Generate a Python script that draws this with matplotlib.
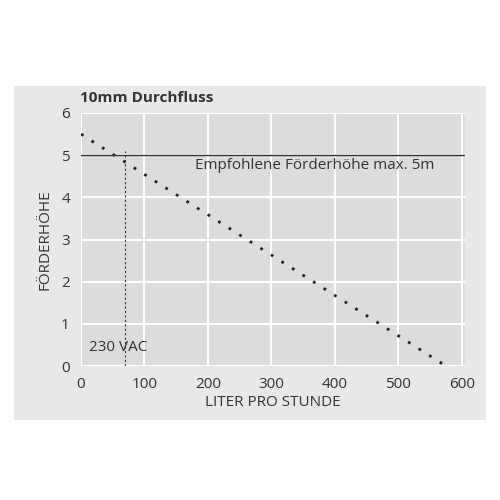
import matplotlib
matplotlib.use("Agg")
import matplotlib.pyplot as plt
from matplotlib.patches import Rectangle

curve_x = [0, 575]
curve_y = [5.5, 0]
ref_head = 5
vac_x = 70
vac_y = 5.1
xticks = [0, 100, 200, 300, 400, 500, 600]
yticks = [0, 1, 2, 3, 4, 5, 6]

plt.rcParams['font.family'] = ['Open Sans', 'DejaVu Sans']
fig = plt.figure(figsize=(5, 5), dpi=100)
fig.patch.set_facecolor('white')
fig.patches.append(Rectangle((14/500, 1-420/500), 472/500, 334/500, transform=fig.transFigure,
                             facecolor='#e8e8e8', edgecolor='none', zorder=-10))
ax = fig.add_axes([0.162, 0.268, 0.768, 0.506])
ax.set_zorder(5)
ax.set_facecolor('#dcdcdc')
ax.set_xlim(0, 605)
ax.set_ylim(0, 6)
ax.set_xticks(xticks)
ax.set_yticks(yticks)
ax.grid(True, color='white', linewidth=1.5)
ax.set_axisbelow(True)
for s in ax.spines.values():
    s.set_visible(False)
ax.tick_params(length=0, labelsize=11, colors='#333333', pad=8)
ax.plot(curve_x, curve_y, linestyle=(0, (1, 3.5)), linewidth=2, color='#222222')
ax.axhline(ref_head, color='#333333', linewidth=1)
ax.plot([vac_x, vac_x], [0, vac_y], linestyle=(0, (2, 2)), linewidth=0.8, color='#333333')
ax.text(180, 4.75, 'Empfohlene Förderhöhe max. 5m', fontsize=11, color='#333333', va='center')
ax.text(12, 0.45, '230 VAC', fontsize=11, color='#333333', va='center')
ax.set_xlabel('LITER PRO STUNDE', fontsize=11, color='#333333', labelpad=2)
ax.set_ylabel('FÖRDERHÖHE', fontsize=11, color='#333333', labelpad=6)
fig.text(80/500, 1-98/500, '10mm Durchfluss', fontsize=11, fontweight='bold', color='#333333', va='center', zorder=6)
fig.savefig('out.png', dpi=100)
